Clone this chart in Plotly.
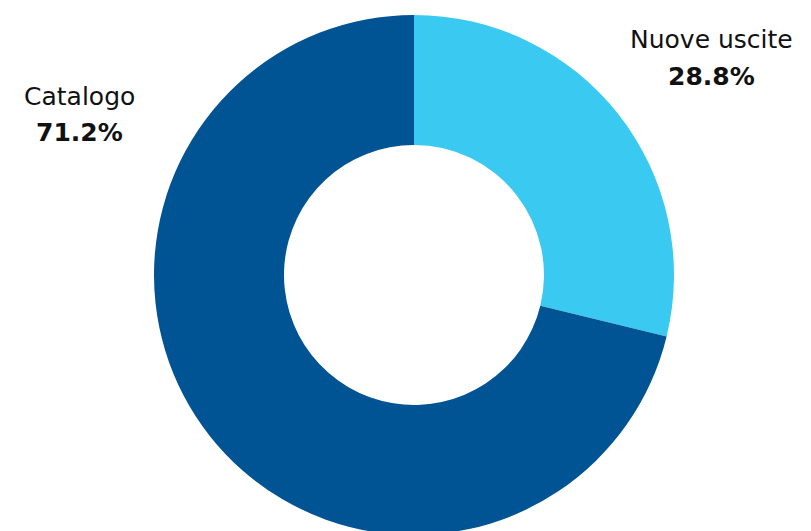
import plotly.graph_objects as go

categories = ["Nuove uscite", "Catalogo"]
values = [28.8, 71.2]
colors = ["#3AC9F0", "#005493"]

W, H = 811, 531
OFF = 8  # page body margin

fig = go.Figure(go.Pie(
    labels=categories,
    values=values,
    hole=0.5,
    sort=False,
    direction="clockwise",
    rotation=0,
    marker=dict(colors=colors, line=dict(width=0)),
    textinfo="none",
    hoverinfo="label+percent",
    showlegend=False,
    domain=dict(x=[146 / W, 666 / W], y=[1 - 527 / H, 1 - 7 / H]),
))

# label positions (screen pixels) for each category: centre x, name line y, value line y
label_pos = {"Nuove uscite": (711, 40, 76), "Catalogo": (79, 97, 132)}
anns = []
for cat, val in zip(categories, values):
    x, y1, y2 = label_pos[cat]
    x -= OFF
    y1 -= OFF
    y2 -= OFF
    anns.append(dict(x=x / W, y=1 - y1 / H, xref="paper", yref="paper",
                     text=cat, showarrow=False, xanchor="center", yanchor="middle",
                     font=dict(size=25, color="#111111", family="DejaVu Sans")))
    anns.append(dict(x=x / W, y=1 - y2 / H, xref="paper", yref="paper",
                     text=f"<b>{val:.1f}%</b>", showarrow=False, xanchor="center", yanchor="middle",
                     font=dict(size=25, color="#111111", family="DejaVu Sans")))

fig.update_layout(
    width=W, height=H,
    margin=dict(l=0, r=0, t=0, b=0),
    paper_bgcolor="white",
    plot_bgcolor="white",
    annotations=anns,
)

fig.write_html("out.html")
